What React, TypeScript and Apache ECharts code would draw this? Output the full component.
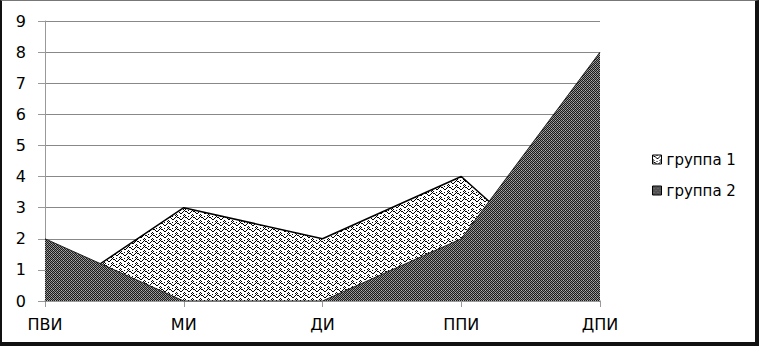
import React, { useEffect, useRef } from "react";
import * as echarts from "echarts";

const categories = ["ПВИ", "МИ", "ДИ", "ППИ", "ДПИ"];
const group1 = [0, 3, 2, 4, 0];
const group2 = [2, 0, 0, 2, 8];
const seriesNames = ["группа 1", "группа 2"];

function makeScalePattern(): string {
  const c = document.createElement("canvas");
  c.width = 8;
  c.height = 6;
  const ctx = c.getContext("2d")!;
  ctx.fillStyle = "#ffffff";
  ctx.fillRect(0, 0, 8, 6);
  ctx.fillStyle = "#000000";
  const pts = [
    [0, 0], [1, 1], [2, 1], [3, 2], [4, 3], [5, 3], [6, 2], [7, 1],
    [4, 0], [0, 4], [1, 5], [7, 5],
  ];
  pts.forEach(([x, y]) => ctx.fillRect(x, y, 1, 1));
  return c.toDataURL();
}

function makeDarkPattern(): string {
  const c = document.createElement("canvas");
  c.width = 4;
  c.height = 4;
  const ctx = c.getContext("2d")!;
  for (let y = 0; y < 4; y++) {
    for (let x = 0; x < 4; x++) {
      const on = (x + y) % 2 === 0;
      ctx.fillStyle = on ? "#1a1a1a" : "#8a8a8a";
      ctx.fillRect(x, y, 1, 1);
    }
  }
  ctx.fillStyle = "#b0b0b0";
  ctx.fillRect(1, 2, 1, 1);
  ctx.fillRect(3, 0, 1, 1);
  return c.toDataURL();
}

export default function App() {
  const ref = useRef<HTMLDivElement>(null);
  useEffect(() => {
    if (!ref.current) return;
    const chart = echarts.init(ref.current, undefined, { renderer: "svg" });
    const p1 = { image: makeScalePattern(), repeat: "repeat" } as any;
    const p2 = { image: makeDarkPattern(), repeat: "repeat" } as any;
    const font = "DejaVu Sans";
    chart.setOption({
      animation: false,
      backgroundColor: "#ffffff",
      grid: { left: 45, right: 159, top: 21, bottom: 45, containLabel: false },
      legend: {
        orient: "vertical",
        left: 647,
        top: 147,
        itemWidth: 9,
        itemHeight: 9,
        itemGap: 16,
        icon: "rect",
        textStyle: { fontFamily: font, fontSize: 15, color: "#000" },
        data: [
          { name: seriesNames[0], itemStyle: { color: p1, borderColor: "#000", borderWidth: 1 } },
          { name: seriesNames[1], itemStyle: { color: p2, borderColor: "#000", borderWidth: 1 } },
        ],
      },
      xAxis: {
        type: "category",
        data: categories,
        boundaryGap: false,
        axisLine: { lineStyle: { color: "#999", width: 1 } },
        axisTick: { show: true, length: 6, lineStyle: { color: "#999" } },
        axisLabel: { fontFamily: font, fontSize: 16, color: "#000", margin: 15 },
        splitLine: { show: false },
      },
      yAxis: {
        type: "value",
        min: 0,
        max: 9,
        interval: 1,
        axisLine: { show: true, lineStyle: { color: "#999", width: 1 } },
        axisTick: { show: true, length: 7, lineStyle: { color: "#999" } },
        axisLabel: { fontFamily: font, fontSize: 16, color: "#000", margin: 19 },
        splitLine: { show: true, lineStyle: { color: "#888", width: 1 } },
      },
      series: [
        {
          name: seriesNames[0],
          type: "line",
          data: group1,
          symbol: "none",
          lineStyle: { color: "#000", width: 1.5 },
          itemStyle: { color: p1 },
          areaStyle: { color: p1, opacity: 1 },
          z: 2,
        },
        {
          name: seriesNames[1],
          type: "line",
          data: group2,
          symbol: "none",
          lineStyle: { color: "#222", width: 1 },
          itemStyle: { color: p2 },
          areaStyle: { color: p2, opacity: 1 },
          z: 3,
        },
      ],
    });
    return () => chart.dispose();
  }, []);
  return (
    <div style={{ position: "absolute", left: 0, top: 0, width: 759, height: 346, background: "#fff" }}>
      <div ref={ref} style={{ position: "absolute", left: 0, top: 0, width: 759, height: 346 }} />
      <div
        style={{
          position: "absolute",
          left: 0,
          top: 0,
          width: 759,
          height: 346,
          boxSizing: "border-box",
          borderLeft: "2px solid #111",
          borderTop: "1px solid #777",
          borderRight: "4px solid #111",
          borderBottom: "4px solid #111",
          pointerEvents: "none",
        }}
      />
    </div>
  );
}
